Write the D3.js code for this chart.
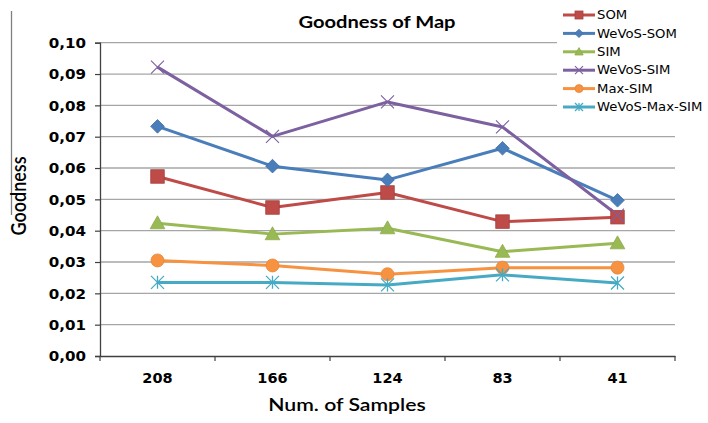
<!DOCTYPE html>
<html>
<head>
<meta charset="utf-8">
<script src="https://cdn.jsdelivr.net/npm/d3@7"></script>
<style>
  html, body { margin: 0; padding: 0; background: #fff; }
  svg { display: block; }
</style>
</head>
<body>
<svg id="chart" width="708" height="423"></svg>
<script>
// ---- data ----
const categories = ["208", "166", "124", "83", "41"];
const som         = [0.0573, 0.0474, 0.0522, 0.0429, 0.0443];
const wevosSom    = [0.0733, 0.0606, 0.0562, 0.0663, 0.0497];
const sim         = [0.0424, 0.0389, 0.0408, 0.0333, 0.0360];
const wevosSim    = [0.0922, 0.0701, 0.0811, 0.0731, 0.0450];
const maxSim      = [0.0305, 0.0289, 0.0261, 0.0282, 0.0282];
const wevosMaxSim = [0.0235, 0.0235, 0.0227, 0.0259, 0.0233];
const yTicks = [0, 0.01, 0.02, 0.03, 0.04, 0.05, 0.06, 0.07, 0.08, 0.09, 0.10];
const yTickLabels = ["0,00","0,01","0,02","0,03","0,04","0,05","0,06","0,07","0,08","0,09","0,10"];
const seriesNames = ["SOM", "WeVoS-SOM", "SIM", "WeVoS-SIM", "Max-SIM", "WeVoS-Max-SIM"];
const seriesValues = [som, wevosSom, sim, wevosSim, maxSim, wevosMaxSim];
const seriesColors = ["#be4b48", "#4a7ebb", "#98b954", "#7d60a0", "#f69240", "#46aac5"];
const seriesMarkers = ["square", "diamond", "triangle", "x", "circle", "asterisk"];
const titleText = "Goodness of Map";
const xTitle = "Num. of Samples";
const yTitle = "Goodness";

// ---- layout ----
const svg = d3.select("#chart");
const L = 100, R = 675, T = 42.7, B = 356;

const x = d3.scaleBand().domain(categories).range([L, R]).padding(0);
const y = d3.scaleLinear().domain([0, 0.10]).range([B, T]);
const cx = c => x(c) + x.bandwidth() / 2;

function stext(g, px, py, str, sx, extra) {
  return g.append("text")
    .attr("transform", `translate(${px},${py}) scale(${sx},1)` + (extra || ""))
    .text(str);
}

// stray vertical line at the far left
svg.append("line").attr("x1", 11.5).attr("x2", 11.5).attr("y1", 11).attr("y2", 215)
  .attr("stroke", "#808080").attr("stroke-width", 1.3);

// gridlines
svg.append("g").selectAll("line").data(yTicks.filter(v => v > 0)).join("line")
  .attr("x1", L).attr("x2", R)
  .attr("y1", d => y(d)).attr("y2", d => y(d))
  .attr("stroke", "#a6a6a6").attr("stroke-width", 1.3);

// axes
const yAxis = d3.axisLeft(y).tickValues(yTicks).tickSize(5).tickFormat((d, i) => yTickLabels[i]);
const gy = svg.append("g").attr("transform", `translate(${L},0)`).call(yAxis);
gy.select(".domain").attr("stroke", "#404040").attr("stroke-width", 1.3);
gy.selectAll(".tick line").attr("stroke", "#404040").attr("stroke-width", 1.2);
gy.selectAll(".tick text").remove();
gy.selectAll(".tick").each(function(d, i) {
  stext(d3.select(this), -14, 0, yTickLabels[i], 1.12)
   .attr("text-anchor", "end").attr("dy", "0.36em")
   .attr("font-family", "DejaVu Sans").attr("font-weight", "bold")
   .attr("font-size", 13.5).attr("fill", "#000");
});

const xAxis = d3.axisBottom(x).tickSize(0).tickFormat(d => d);
const gx = svg.append("g").attr("transform", `translate(0,${B})`).call(xAxis);
gx.select(".domain").attr("stroke", "#404040").attr("stroke-width", 1.3);
gx.selectAll(".tick text").remove();
gx.selectAll(".tick").each(function(d) {
  stext(d3.select(this), 0, 27, d, 1.0)
   .attr("text-anchor", "middle")
   .attr("font-family", "DejaVu Sans").attr("font-weight", "bold")
   .attr("font-size", 14.5).attr("fill", "#000");
});
// boundary ticks
const bounds = categories.map(c => x(c)).concat([R]);
gx.append("g").selectAll("line").data(bounds).join("line")
  .attr("x1", d => d).attr("x2", d => d).attr("y1", 0).attr("y2", 5)
  .attr("stroke", "#404040").attr("stroke-width", 1.2);

// markers
function drawMarker(g, type, color, px, py, s) {
  const h = s / 2;
  if (type === "square") {
    g.append("rect").attr("x", px - h).attr("y", py - h).attr("width", s).attr("height", s)
      .attr("fill", color).attr("stroke", d3.color(color).darker(0.4)).attr("stroke-width", 0.8);
  } else if (type === "diamond") {
    const d = h * 1.05;
    g.append("path").attr("d", `M${px},${py - d}L${px + d},${py}L${px},${py + d}L${px - d},${py}Z`)
      .attr("fill", color).attr("stroke", d3.color(color).darker(0.4)).attr("stroke-width", 0.8);
  } else if (type === "triangle") {
    g.append("path").attr("d", `M${px},${py - h * 1.05}L${px + h * 1.05},${py + h * 0.8}L${px - h * 1.05},${py + h * 0.8}Z`)
      .attr("fill", color).attr("stroke", d3.color(color).darker(0.2)).attr("stroke-width", 0.8);
  } else if (type === "circle") {
    g.append("circle").attr("cx", px).attr("cy", py).attr("r", h)
      .attr("fill", color).attr("stroke", d3.color(color).darker(0.2)).attr("stroke-width", 0.8);
  } else if (type === "x") {
    g.append("path").attr("d", `M${px - h},${py - h}L${px + h},${py + h}M${px - h},${py + h}L${px + h},${py - h}`)
      .attr("stroke", color).attr("stroke-width", 1.1).attr("fill", "none");
  } else if (type === "asterisk") {
    g.append("path").attr("d", `M${px - h},${py - h}L${px + h},${py + h}M${px - h},${py + h}L${px + h},${py - h}M${px},${py - h}L${px},${py + h}`)
      .attr("stroke", color).attr("stroke-width", 1.3).attr("fill", "none");
  }
}

const line = d3.line().x((d, i) => cx(categories[i])).y(d => y(d));
const plot = svg.append("g");
seriesValues.forEach((vals, si) => {
  plot.append("path").datum(vals).attr("d", line)
    .attr("fill", "none").attr("stroke", seriesColors[si]).attr("stroke-width", 3)
    .attr("stroke-linejoin", "round");
});
seriesValues.forEach((vals, si) => {
  const g = plot.append("g");
  const sz = { square: 13.5, diamond: 13, triangle: 14, circle: 13, x: 13, asterisk: 13 }[seriesMarkers[si]];
  vals.forEach((v, i) => drawMarker(g, seriesMarkers[si], seriesColors[si], cx(categories[i]), y(v), sz));
});

// title
stext(svg, 377, 28, titleText, 1.15)
  .attr("text-anchor", "middle").attr("font-family", "Lato").attr("font-weight", "bold")
  .attr("font-size", 17.5).attr("fill", "#000");

// axis titles
stext(svg, 347, 411, xTitle, 1.18)
  .attr("text-anchor", "middle").attr("font-family", "Lato").attr("font-weight", "600")
  .attr("font-size", 18).attr("fill", "#000");
svg.append("text")
  .attr("transform", `translate(26,196) scale(1.15,1) rotate(-90)`)
  .attr("text-anchor", "middle").attr("font-family", "Lato").attr("font-weight", "600")
  .attr("font-size", 18).attr("fill", "#000").text(yTitle);

// legend
const leg = svg.append("g");
leg.append("rect").attr("x", 557).attr("y", 0).attr("width", 151).attr("height", 118).attr("fill", "#fff");
seriesNames.forEach((name, i) => {
  const ly = 15 + i * 18.4;
  leg.append("line").attr("x1", 563).attr("x2", 595).attr("y1", ly).attr("y2", ly)
    .attr("stroke", seriesColors[i]).attr("stroke-width", 3);
  drawMarker(leg, seriesMarkers[i], seriesColors[i], 579, ly, 8);
  stext(leg, 597, ly, name, 1.15)
    .attr("dy", "0.36em").attr("font-family", "DejaVu Sans")
    .attr("font-size", 11.5).attr("fill", "#000");
});
</script>
</body>
</html>
